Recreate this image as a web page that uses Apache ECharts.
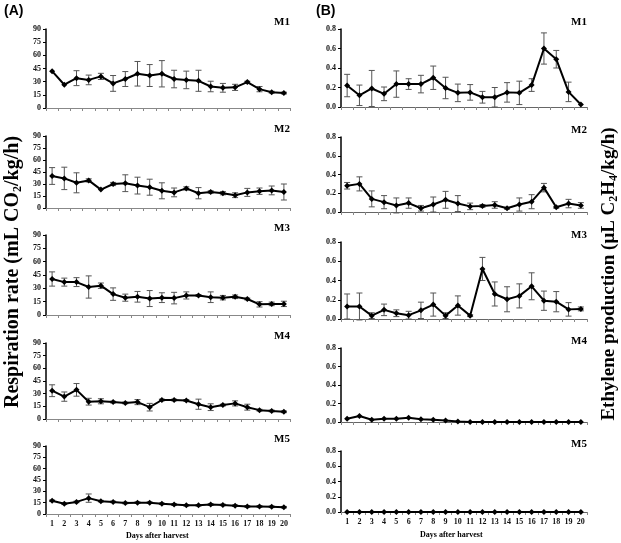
<!DOCTYPE html>
<html><head><meta charset="utf-8">
<script src="https://cdn.jsdelivr.net/npm/echarts@6/dist/echarts.min.js"></script>
<style>html,body{margin:0;padding:0;background:#fff}#c{width:621px;height:543px}</style>
</head><body><div id="c"></div>
<script>
const days = ['1','2','3','4','5','6','7','8','9','10','11','12','13','14','15','16','17','18','19','20'];
const panelNames = ['M1','M2','M3','M4','M5'];
const respTicks = [0,15,30,45,60,75,90];
const ethTicks = [0.0,0.2,0.4,0.6,0.8];

// Respiration rate (A)
const respM1 = [42,26.5,34,32,36,28,33,39,37,39,33,32,31,24.5,23,23.5,29.5,21.5,18,17];
const respM1Err = [0,0,8.5,5.5,3.5,9,8.5,14,12.5,15,10,10,12,6,5,3.5,1,3,1,1];
const respM2 = [40,37,31.5,34.5,23,30,31,28,26,21.5,19.5,24.5,18.5,20,18.5,16,19.5,21,22,20];
const respM2Err = [10.5,14,12.5,2,0,2,10.5,10.5,10,10,5.5,2,7,1.5,2,3,5,4,5.5,10];
const respM3 = [40.5,37,37,31.5,33,23.5,19.5,20.5,18.5,19.5,19,22,22,20,19.5,20.5,18,12,12.5,12.5];
const respM3Err = [8,4.5,5,12.5,3,7,4,6,9,5.5,6.5,4,1,6,2.5,2,1,3,2,3];
const respM4 = [33.5,26.5,34.5,20.5,21,20,19,20,14,22.5,22.5,22,17.5,14,16.5,18.5,14,10.5,9.5,8.5];
const respM4Err = [7,5.5,7.5,4,3,1,1,3,4.5,1,1,1,6,4,1,3,3.5,1,1,1];
const respM5 = [17.5,13.5,16,21,17,16,14.5,15,15,13.5,12.5,11.5,11.5,12.5,12,11,10,10,9.5,9];
const respM5Err = [1,1,1,5.5,1,1,1,1,1,1,1,1,1,1,1,1,1,1,1,1];

// Ethylene production (B)
const ethM1 = [0.22,0.12,0.19,0.135,0.235,0.235,0.235,0.30,0.195,0.145,0.15,0.10,0.10,0.15,0.145,0.225,0.60,0.49,0.155,0.025];
const ethM1Err = [0.115,0.105,0.185,0.07,0.135,0.055,0.09,0.12,0.11,0.09,0.08,0.06,0.10,0.10,0.12,0.065,0.16,0.09,0.10,0];
const ethM2 = [0.28,0.30,0.14,0.105,0.07,0.095,0.04,0.08,0.13,0.09,0.06,0.065,0.075,0.04,0.08,0.11,0.26,0.05,0.09,0.07];
const ethM2Err = [0.035,0.075,0.085,0.07,0.08,0.055,0.03,0.08,0.09,0.085,0.035,0.015,0.035,0.01,0.07,0.075,0.045,0.01,0.045,0.03];
const ethM3 = [0.13,0.13,0.035,0.095,0.06,0.04,0.09,0.15,0.035,0.14,0.035,0.52,0.26,0.205,0.24,0.34,0.19,0.18,0.10,0.105];
const ethM3Err = [0.13,0.14,0.03,0.06,0.035,0.04,0.085,0.12,0.03,0.10,0.01,0.12,0.125,0.13,0.125,0.14,0.10,0.105,0.07,0.02];
const ethM4 = [0.035,0.065,0.025,0.035,0.035,0.045,0.03,0.025,0.015,0.005,0,0,0,0,0,0,0,0,0,0];
const ethM4Err = [0,0,0,0,0,0,0,0,0,0,0,0,0,0,0,0,0,0,0,0];
const ethM5 = [0,0,0,0,0,0,0,0,0,0,0,0,0,0,0,0,0,0,0,0];
const ethM5Err = [0,0,0,0,0,0,0,0,0,0,0,0,0,0,0,0,0,0,0,0];

const respVals = [respM1,respM2,respM3,respM4,respM5];
const respErrs = [respM1Err,respM2Err,respM3Err,respM4Err,respM5Err];
const ethVals = [ethM1,ethM2,ethM3,ethM4,ethM5];
const ethErrs = [ethM1Err,ethM2Err,ethM3Err,ethM4Err,ethM5Err];

// layout (pixels)
const leftCol = {left:46, width:244};
const rightCol = {left:341, width:246};
const leftRows = [[29,108],[136,208],[235,315],[343,419],[446,514]];
const rightRows = [[29,107],[137,212],[242,319],[348,422],[451,512]];

const serif = 'Liberation Serif';
const grids=[], xAxes=[], yAxes=[], series=[], graphics=[];

function addPanel(col, rows, i, vals, errs, isResp) {
  const idx = grids.length;
  const [t,b] = rows[i];
  grids.push({left:col.left, top:t, width:col.width, height:b-t, containLabel:false});
  const last = i===4;
  xAxes.push({type:'category', gridIndex:idx, data:days, boundaryGap:true,
    axisLine:{lineStyle:{color: isResp? '#888':'#666', width:1}},
    axisTick:{show:true, length:3, lineStyle:{color:'#888'}},
    axisLabel:{show:last, color:'#111', fontFamily:serif, fontWeight:'bold', fontSize:8, margin:6}
  });
  yAxes.push({type:'value', gridIndex:idx,
    min:0, max: isResp?90:0.8, interval: isResp?15:0.2,
    splitLine:{show:false},
    axisLine:{show:true, lineStyle:{color:'#000', width:1.5}},
    axisTick:{show:true, length:3, lineStyle:{color:'#000'}},
    axisLabel:{color:'#111', fontFamily:serif, fontWeight:'bold', fontSize:8, margin:5,
      formatter: v => isResp ? String(v) : v.toFixed(1)}
  });
  const errData = vals.map((v,k)=>[k, v-errs[k], v+errs[k]]);
  series.push({type:'custom', xAxisIndex:idx, yAxisIndex:idx, data:errData, silent:true, z:2,
    renderItem:(params, api)=>{
      const x = api.value(0);
      if (api.value(2)-api.value(1) < 1e-9) return;
      const lo = api.coord([x, api.value(1)]);
      const hi = api.coord([x, api.value(2)]);
      const cw = 3;
      const st = {stroke:'#555', lineWidth:1};
      return {type:'group', children:[
        {type:'line', shape:{x1:lo[0],y1:lo[1],x2:hi[0],y2:hi[1]}, style:st},
        {type:'line', shape:{x1:lo[0]-cw,y1:lo[1],x2:lo[0]+cw,y2:lo[1]}, style:st},
        {type:'line', shape:{x1:hi[0]-cw,y1:hi[1],x2:hi[0]+cw,y2:hi[1]}, style:st}
      ]};
    }});
  series.push({type:'line', xAxisIndex:idx, yAxisIndex:idx, data:vals, z:3,
    symbol:'diamond', symbolSize:6, showSymbol:true,
    lineStyle:{color:'#000', width:2}, itemStyle:{color:'#000'}, animation:false});
  graphics.push({type:'text', right: 621-(col.left+col.width) , top: t-12,
    style:{text:panelNames[i], font:'bold 11px '+serif, fill:'#000', textAlign:'right'}});
}

for (let i=0;i<5;i++) addPanel(leftCol, leftRows, i, respVals[i], respErrs[i], true);
for (let i=0;i<5;i++) addPanel(rightCol, rightRows, i, ethVals[i], ethErrs[i], false);

graphics.push({type:'text', left:4, top:4, style:{text:'(A)', font:'bold 14px Arial, Liberation Sans', fill:'#000'}});
graphics.push({type:'text', left:316, top:4, style:{text:'(B)', font:'bold 14px Arial, Liberation Sans', fill:'#000'}});
graphics.push({type:'text', left:126, top:532, style:{text:'Days after harvest', font:'bold 8px '+serif, fill:'#000'}});
graphics.push({type:'text', left:420, top:531, style:{text:'Days after harvest', font:'bold 8px '+serif, fill:'#000'}});

const richStyles = {
  n:{fontFamily:serif, fontWeight:'bold', fontSize:20, color:'#000'},
  s:{fontFamily:serif, fontWeight:'bold', fontSize:12, color:'#000', padding:[10,0,0,0]}
};
const richStylesR = {
  n:{fontFamily:serif, fontWeight:'bold', fontSize:19, color:'#000'},
  s:{fontFamily:serif, fontWeight:'bold', fontSize:12, color:'#000', padding:[10,0,0,0]}
};
graphics.push({type:'text', x:13, y:272, rotation:Math.PI/2,
  style:{text:'{n|Respiration rate (mL CO}{s|2}{n|/kg/h)}', rich:richStyles, align:'center', verticalAlign:'middle', fill:'#000'}});
graphics.push({type:'text', x:609, y:274, rotation:Math.PI/2,
  style:{text:'{n|Ethylene production (}{n|\u03bcL C}{s|2}{n|H}{s|4}{n|/kg/h)}', rich:richStylesR, align:'center', verticalAlign:'middle', fill:'#000'}});

const chart = echarts.init(document.getElementById('c'), null, {renderer:'canvas'});
chart.setOption({animation:false, backgroundColor:'#fff', grid:grids, xAxis:xAxes, yAxis:yAxes, series:series, graphic:graphics});
</script></body></html>
